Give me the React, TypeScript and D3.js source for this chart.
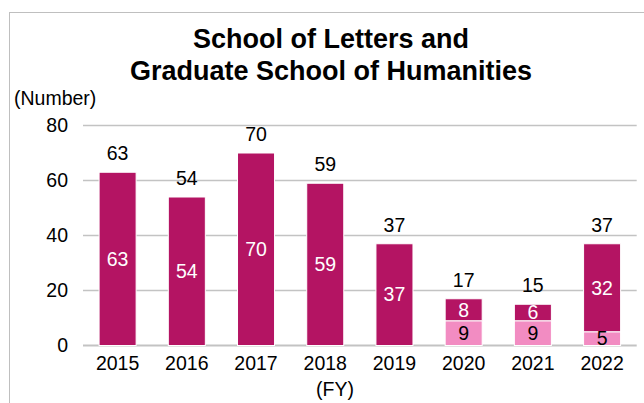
import React from "react";
import * as d3 from "d3";

const years = ["2015", "2016", "2017", "2018", "2019", "2020", "2021", "2022"];
const lowerSeries = [0, 0, 0, 0, 0, 9, 9, 5];
const upperSeries = [63, 54, 70, 59, 37, 8, 6, 32];
const yTicks = [0, 20, 40, 60, 80];
const titleLines = ["School of Letters and", "Graduate School of Humanities"];

const W = 644;
const H = 403;
const FONT = "'Liberation Sans', Arial, sans-serif";
const DARK = "#B41463";
const PINK = "#F28CC2";
const GRID = "#C3C3C3";

export default function App() {
  const x = d3
    .scaleBand<string>()
    .domain(years)
    .range([83, 636.7])
    .paddingInner(0.465)
    .paddingOuter(0.2325);
  const y = d3.scaleLinear().domain([0, 80]).range([345.5, 125.5]);

  const rows = years.map((yr, i) => ({ yr, lower: lowerSeries[i], upper: upperSeries[i] }));
  const stack = d3.stack<any>().keys(["lower", "upper"])(rows);

  return (
    <svg
      width={W}
      height={H}
      style={{ position: "absolute", left: 0, top: 0, background: "#fff" }}
      fontFamily={FONT}
    >
      <rect x={9.5} y={12.5} width={700} height={500} fill="#fff" stroke="#BFBFBF" strokeWidth={1} />
      {titleLines.map((t, i) => (
        <text
          key={t}
          x={331}
          y={48 + i * 32}
          textAnchor="middle"
          fontSize={27}
          fontWeight="bold"
          fill="#000"
        >
          {t}
        </text>
      ))}
      <text x={14} y={105} fontSize={19.5} fill="#000">
        (Number)
      </text>
      {yTicks.map((t) => (
        <g key={t}>
          <line x1={83} x2={636.7} y1={y(t)} y2={y(t)} stroke={GRID} strokeWidth={t === 0 ? 2 : 1.6} />
          <text x={68} y={y(t) + 6.8} textAnchor="end" fontSize={19.5} fill="#000">
            {t}
          </text>
        </g>
      ))}
      {stack.map((layer, li) =>
        layer.map((d, i) => {
          const v = d[1] - d[0];
          if (v <= 0) return null;
          const yr = years[i];
          return (
            <rect
              key={`${li}-${yr}`}
              x={x(yr)!}
              y={y(d[1])}
              width={x.bandwidth()}
              height={y(d[0]) - y(d[1])}
              fill={li === 0 ? PINK : DARK}
              stroke="#fff"
              strokeWidth={1}
            />
          );
        })
      )}
      {stack.map((layer, li) =>
        layer.map((d, i) => {
          const v = d[1] - d[0];
          if (v <= 0) return null;
          const yr = years[i];
          return (
            <text
              key={`l${li}-${yr}`}
              x={x(yr)! + x.bandwidth() / 2}
              y={y((d[0] + d[1]) / 2) + 6.8}
              textAnchor="middle"
              fontSize={19.5}
              fill={li === 0 ? "#000" : "#fff"}
            >
              {v}
            </text>
          );
        })
      )}
      {years.map((yr, i) => {
        const total = lowerSeries[i] + upperSeries[i];
        return (
          <g key={`t${yr}`}>
            <text
              x={x(yr)! + x.bandwidth() / 2}
              y={y(total) - 12}
              textAnchor="middle"
              fontSize={19.5}
              fill="#000"
            >
              {total}
            </text>
            <text x={x(yr)! + x.bandwidth() / 2} y={370} textAnchor="middle" fontSize={19.5} fill="#000">
              {yr}
            </text>
          </g>
        );
      })}
      <text x={335} y={396} textAnchor="middle" fontSize={19.5} fill="#000">
        (FY)
      </text>
    </svg>
  );
}
